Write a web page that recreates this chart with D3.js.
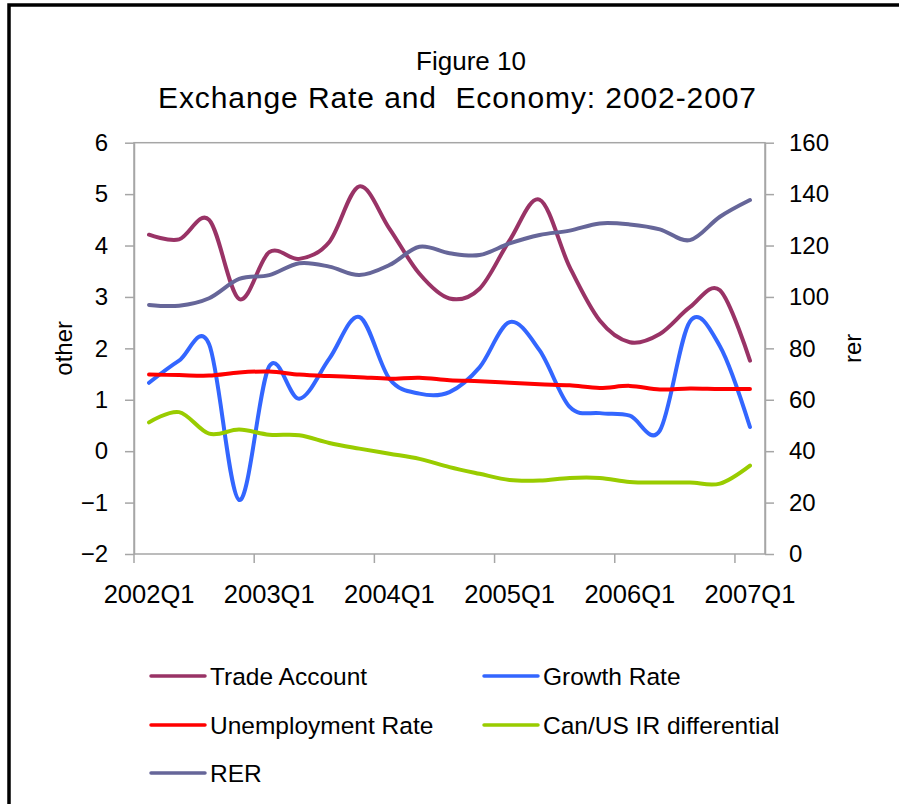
<!DOCTYPE html>
<html>
<head>
<meta charset="utf-8">
<script src="https://cdn.jsdelivr.net/npm/d3@7"></script>
<style>
  html, body { margin: 0; background: #fff; overflow: hidden; }
  svg { display: block; font-family: "Liberation Sans", Arial, sans-serif; }
  .axis path, .axis line { stroke: #a6a6a6; stroke-width: 1.5; }
  .axis text { font-size: 24px; fill: #000; }
</style>
</head>
<body>
<div class="chart-container"></div>
<script>
var totalWidth = 899;
var totalHeight = 804;
var plot = { left: 134, right: 765, top: 142.7, bottom: 554 };

var quarters = ['2002Q1', '2002Q2', '2002Q3', '2002Q4',
                '2003Q1', '2003Q2', '2003Q3', '2003Q4',
                '2004Q1', '2004Q2', '2004Q3', '2004Q4',
                '2005Q1', '2005Q2', '2005Q3', '2005Q4',
                '2006Q1', '2006Q2', '2006Q3', '2006Q4',
                '2007Q1'];
var xTickLabels = ['2002Q1', '2003Q1', '2004Q1', '2005Q1', '2006Q1', '2007Q1'];
var leftTicks = [-2, -1, 0, 1, 2, 3, 4, 5, 6];
var rightTicks = [0, 20, 40, 60, 80, 100, 120, 140, 160];

var tradeAccount = [4.21, 4.12, 4.50, 2.96, 3.87, 3.74, 4.07, 5.15, 4.33, 3.45, 2.97,
                    3.16, 4.10, 4.89, 3.58, 2.54, 2.12, 2.28, 2.80, 3.13, 1.76];
var growthRate = [1.33, 1.76, 2.08, -0.95, 1.65, 1.02, 1.80, 2.61, 1.41, 1.12, 1.15,
                  1.63, 2.51, 1.96, 0.86, 0.74, 0.69, 0.40, 2.52, 2.04, 0.47];
var unemploymentRate = [1.49, 1.48, 1.47, 1.53, 1.55, 1.49, 1.46, 1.44, 1.41, 1.43, 1.38,
                        1.36, 1.33, 1.30, 1.28, 1.23, 1.27, 1.20, 1.22, 1.21, 1.21];
var irDifferential = [0.56, 0.76, 0.34, 0.42, 0.32, 0.31, 0.16, 0.05, -0.05, -0.15, -0.31,
                      -0.44, -0.56, -0.57, -0.52, -0.52, -0.60, -0.61, -0.61, -0.63, -0.28];
var rer = [96.9, 96.6, 99.5, 107.0, 108.5, 113.1, 111.8, 108.5, 112.4, 119.5, 117.0,
           116.3, 120.8, 124.1, 125.8, 128.6, 128.2, 126.3, 122.1, 131.2, 137.7];

var series = [
  { name: 'Trade Account', values: tradeAccount, color: '#993366', axis: 'left' },
  { name: 'Growth Rate', values: growthRate, color: '#3366ff', axis: 'left' },
  { name: 'Unemployment Rate', values: unemploymentRate, color: '#ff0000', axis: 'left' },
  { name: 'Can/US IR differential', values: irDifferential, color: '#99cc00', axis: 'left' },
  { name: 'RER', values: rer, color: '#666699', axis: 'right' }
];

var svg = d3.select('.chart-container').append('svg')
  .attr('width', totalWidth)
  .attr('height', totalHeight);

// outer frame: only its top and left edges fall inside the picture
svg.append('path')
  .attr('d', `M9,${totalHeight} V5 H${totalWidth}`)
  .attr('fill', 'none')
  .attr('stroke', '#000')
  .attr('stroke-width', 3.5);

var x = d3.scaleBand()
  .domain(quarters)
  .range([plot.left, plot.right]);

var yLeft = d3.scaleLinear()
  .domain([-2, 6])
  .range([plot.bottom, plot.top]);

var yRight = d3.scaleLinear()
  .domain([0, 160])
  .range([plot.bottom, plot.top]);

// plot area border
svg.append('rect')
  .attr('x', plot.left).attr('y', plot.top)
  .attr('width', plot.right - plot.left)
  .attr('height', plot.bottom - plot.top)
  .attr('fill', 'none')
  .attr('stroke', '#a6a6a6')
  .attr('stroke-width', 1.5);

/*
 * Axes
 */
svg.append('g')
  .attr('class', 'axis')
  .attr('transform', `translate(${plot.left},0)`)
  .call(d3.axisLeft(yLeft).tickValues(leftTicks).tickSize(9).tickPadding(17).tickSizeOuter(0));

svg.append('g')
  .attr('class', 'axis')
  .attr('transform', `translate(${plot.right},0)`)
  .call(d3.axisRight(yRight).tickValues(rightTicks).tickSize(9).tickPadding(15).tickSizeOuter(0));

var gX = svg.append('g')
  .attr('class', 'axis')
  .attr('transform', `translate(0,${plot.bottom})`)
  .call(d3.axisBottom(x).tickValues(xTickLabels).tickSize(0).tickPadding(31).tickSizeOuter(0));
gX.select('.domain').remove();
gX.selectAll('text').style('font-size', '25.5px');

// category tick marks sit between categories, every four quarters
svg.append('g')
  .selectAll('line')
  .data(xTickLabels).enter()
  .append('line')
    .attr('x1', d => x(d))
    .attr('x2', d => x(d))
    .attr('y1', plot.bottom)
    .attr('y2', plot.bottom + 9)
    .attr('stroke', '#a6a6a6')
    .attr('stroke-width', 1.5);

/*
 * Lines
 */
var lines = svg.append('g');
series.forEach(s => {
  var yScale = s.axis === 'left' ? yLeft : yRight;
  var line = d3.line()
    .x((d, i) => x(quarters[i]) + x.bandwidth() / 2)
    .y(d => yScale(d))
    .curve(d3.curveCardinal.tension(0));
  lines.append('path')
    .datum(s.values)
    .attr('d', line)
    .attr('fill', 'none')
    .attr('stroke', s.color)
    .attr('stroke-width', 4)
    .attr('stroke-linecap', 'round')
    .attr('stroke-linejoin', 'round');
});

/*
 * Titles
 */
svg.append('text')
  .attr('x', 471).attr('y', 70)
  .attr('text-anchor', 'middle')
  .style('font-size', '26px')
  .text('Figure 10');

svg.append('text')
  .attr('x', 457).attr('y', 108)
  .attr('text-anchor', 'middle')
  .attr('textLength', 598)
  .attr('lengthAdjust', 'spacing')
  .style('font-size', '30px')
  .style('white-space', 'pre')
  .text('Exchange Rate and  Economy: 2002-2007');

svg.append('text')
  .attr('transform', `translate(72, ${(plot.top + plot.bottom) / 2}) rotate(-90)`)
  .attr('text-anchor', 'middle')
  .style('font-size', '24px')
  .text('other');

svg.append('text')
  .attr('transform', `translate(861, ${(plot.top + plot.bottom) / 2}) rotate(-90)`)
  .attr('text-anchor', 'middle')
  .style('font-size', '24px')
  .text('rer');

/*
 * Legend
 */
var legendPos = [
  { x: 151, y: 676 }, { x: 484, y: 676 },
  { x: 151, y: 725 }, { x: 484, y: 725 },
  { x: 151, y: 773 }
];
var legend = svg.append('g')
  .selectAll('g')
  .data(series).enter()
  .append('g')
    .attr('transform', (d, i) => `translate(${legendPos[i].x},${legendPos[i].y})`);

legend.append('line')
  .attr('x1', 0).attr('x2', 54)
  .attr('stroke', d => d.color)
  .attr('stroke-width', 3.5)
  .attr('stroke-linecap', 'round');

legend.append('text')
  .attr('x', 59).attr('dy', '0.35em')
  .style('font-size', '24.5px')
  .text(d => d.name);
</script>
</body>
</html>
